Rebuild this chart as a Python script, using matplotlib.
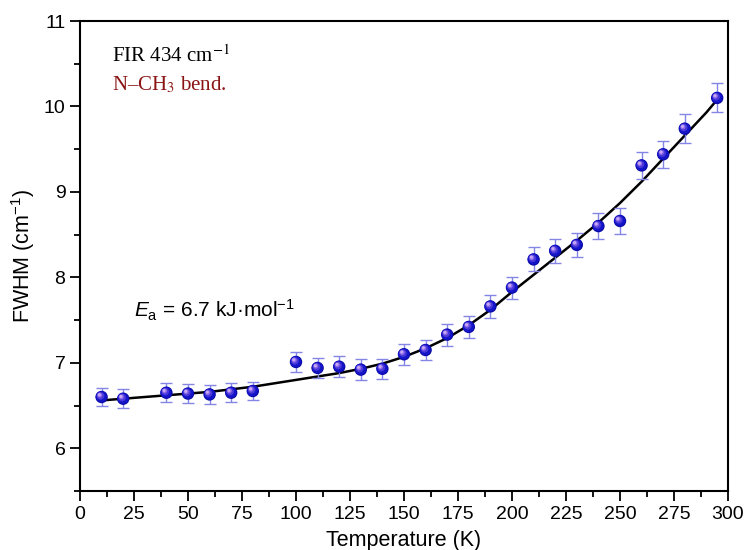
import matplotlib
matplotlib.use("Agg")
import matplotlib.pyplot as plt
from matplotlib.ticker import MultipleLocator
import matplotlib.transforms as mtransforms

plt.rcParams['font.family'] = ['Liberation Sans', 'DejaVu Sans']
plt.rcParams['mathtext.fontset'] = 'custom'
plt.rcParams['mathtext.rm'] = 'Liberation Sans'
plt.rcParams['mathtext.it'] = 'Liberation Sans:italic'
plt.rcParams['mathtext.bf'] = 'Liberation Sans:bold'

# Measured data
temperature = [10, 20, 40, 50, 60, 70, 80, 100, 110, 120, 130, 140, 150, 160,
               170, 180, 190, 200, 210, 220, 230, 240, 250, 260, 270, 280, 295]
fwhm = [6.60, 6.58, 6.65, 6.64, 6.63, 6.65, 6.67, 7.01, 6.94, 6.955, 6.92, 6.93,
        7.10, 7.15, 7.33, 7.42, 7.66, 7.88, 8.21, 8.31, 8.38, 8.60, 8.66, 9.31,
        9.44, 9.74, 10.10]
fwhm_err = [0.11, 0.11, 0.11, 0.11, 0.11, 0.11, 0.11, 0.12, 0.12, 0.12, 0.12, 0.12,
            0.12, 0.12, 0.13, 0.13, 0.13, 0.13, 0.14, 0.14, 0.14, 0.15, 0.15, 0.16,
            0.16, 0.17, 0.17]

# Fit curve
fit_T = [10, 20, 30, 40, 50, 60, 70, 80, 90, 100, 110, 120, 130, 140, 150, 160,
         170, 180, 190, 200, 210, 220, 230, 240, 250, 260, 270, 280, 290, 295]
fit_y = [6.56, 6.58, 6.60, 6.62, 6.64, 6.66, 6.69, 6.72, 6.76, 6.80, 6.84, 6.88,
         6.93, 6.99, 7.07, 7.17, 7.29, 7.44, 7.62, 7.83, 8.03, 8.23, 8.43, 8.64,
         8.87, 9.12, 9.39, 9.66, 9.93, 10.08]

fig = plt.figure(figsize=(7.46, 5.5), dpi=100)
ax = fig.add_axes([80/746, (550-491)/550, 648/746, 470/550])

ax.plot(fit_T, fit_y, color='black', lw=1.8, zorder=2)
ax.errorbar(temperature, fwhm, yerr=fwhm_err, fmt='none', ecolor='#8585e6',
            elinewidth=1.0, capsize=4, capthick=1.0, zorder=3)

# sphere-like markers
layers = [(80, '#0a0aa8', 0.0), (62, '#1414c8', 0.25), (30, '#4a38d8', 0.8),
          (13, '#8a6ae8', 1.3), (5, '#c8a8f4', 1.6)]
for s, c, off in layers:
    tr = ax.transData + mtransforms.ScaledTranslation(-off/72, off/72, fig.dpi_scale_trans)
    ax.scatter(temperature, fwhm, s=s, color=c, edgecolors='none', transform=tr, zorder=4)

ax.set_xlim(0, 300)
ax.set_ylim(5.5, 11)
ax.xaxis.set_major_locator(MultipleLocator(25))
ax.xaxis.set_minor_locator(MultipleLocator(12.5))
ax.yaxis.set_major_locator(MultipleLocator(1))
ax.yaxis.set_minor_locator(MultipleLocator(0.5))
ax.tick_params(which='both', direction='out', top=False, right=False, labelsize=14, width=1.3)
ax.tick_params(which='major', length=7)
ax.tick_params(which='minor', length=4)
for sp in ax.spines.values():
    sp.set_linewidth(1.5)

ax.set_xlabel('Temperature (K)', fontsize=15.5, labelpad=5.5)
ax.set_ylabel('FWHM (cm$^{-1}$)', fontsize=15.5, labelpad=5)

ax.text(0.05, 0.925, 'FIR 434 cm$^{-1}$', transform=ax.transAxes, fontsize=15,
        family='Liberation Serif', math_fontfamily='stix', color='black', va='center')
ax.text(0.05, 0.865, 'N\u2013CH$_3$ bend.', transform=ax.transAxes, fontsize=15,
        family='Liberation Serif', math_fontfamily='stix', color='#8b1515', va='center')
ax.text(0.083, 0.385, '$E_\\mathrm{a}$ = 6.7 kJ\u00b7mol$^{-1}$', transform=ax.transAxes,
        fontsize=15, color='black', va='center')

fig.savefig('out.png', dpi=100)
